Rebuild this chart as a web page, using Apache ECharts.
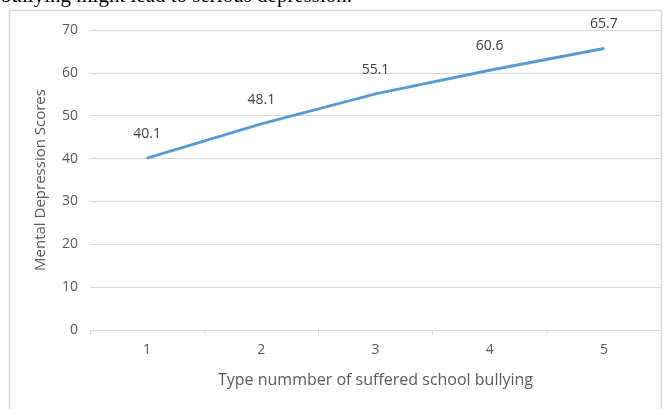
<!DOCTYPE html>
<html>
<head>
<meta charset="utf-8">
<script src="https://cdn.jsdelivr.net/npm/echarts@6/dist/echarts.min.js"></script>
<style>
  html, body { margin: 0; padding: 0; background: #fff; }
  #chart { width: 670px; height: 409px; }
</style>
</head>
<body>
<div id="chart"></div>
<script>
var categories = ['1', '2', '3', '4', '5']
var scores = [40.1, 48.1, 55.1, 60.6, 65.7]
var yTicks = { min: 0, max: 70, interval: 10 }

var chart = echarts.init(document.getElementById('chart'))
chart.setOption({
  animation: false,
  color: ['#5B9BD5'],
  graphic: [
    {
      type: 'rect',
      shape: { x: 9.5, y: 10.5, width: 652, height: 420 },
      style: { fill: 'none', stroke: '#D9D9D9', lineWidth: 1.5 },
      z: -1
    },
    {
      type: 'text',
      left: 1,
      top: -14,
      style: {
        text: 'bullying might lead to serious depression.',
        font: '21px "Liberation Serif"',
        fill: '#000'
      }
    }
  ],
  grid: {
    left: 90,
    right: 9,
    top: 30,
    bottom: 79
  },
  xAxis: {
    type: 'category',
    data: categories,
    name: 'Type nummber of suffered school bullying',
    nameLocation: 'middle',
    nameGap: 42,
    nameTextStyle: { color: '#595959', fontSize: 16, fontFamily: 'Open Sans' },
    axisLine: { lineStyle: { color: '#D9D9D9', width: 1 } },
    axisTick: { show: true, length: 5, lineStyle: { color: '#D9D9D9' } },
    axisLabel: { color: '#595959', fontSize: 14, margin: 13, fontFamily: 'Open Sans' }
  },
  yAxis: {
    type: 'value',
    min: yTicks.min,
    max: yTicks.max,
    interval: yTicks.interval,
    name: 'Mental Depression Scores',
    nameLocation: 'middle',
    nameGap: 42,
    nameTextStyle: { color: '#595959', fontSize: 15, fontFamily: 'Open Sans' },
    axisLine: { show: false },
    axisTick: { show: false },
    axisLabel: { color: '#595959', fontSize: 14, margin: 12, fontFamily: 'Open Sans' },
    splitLine: { lineStyle: { color: '#D9D9D9', width: 1 } }
  },
  series: [{
    type: 'line',
    data: scores,
    symbol: 'circle',
    symbolSize: 2,
    showSymbol: true,
    itemStyle: { color: '#5B9BD5', borderWidth: 0 },
    lineStyle: { width: 3, color: '#5B9BD5' },
    label: {
      show: true,
      position: 'top',
      distance: 16,
      color: '#404040',
      fontSize: 14,
      fontFamily: 'Open Sans'
    }
  }]
})
window.addEventListener('resize', chart.resize)
</script>
</body>
</html>
